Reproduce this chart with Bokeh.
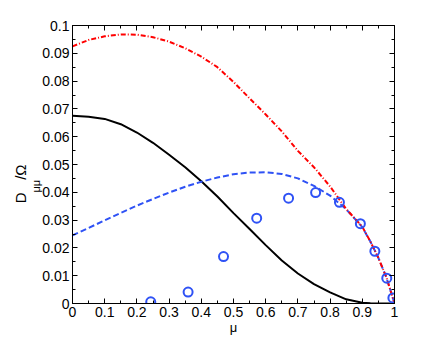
from math import pi
from bokeh.plotting import figure
from bokeh.models import LinearAxis, FixedTicker
from bokeh.embed import file_html
from bokeh.resources import INLINE

# ---- data ----
mu = [0.0, 0.05, 0.1, 0.15, 0.2, 0.25, 0.3, 0.35, 0.4, 0.45, 0.5, 0.55, 0.6,
      0.65, 0.7, 0.75, 0.8, 0.85, 0.9, 0.925, 0.95, 0.975, 0.99, 1.0]
d_black = [0.0675, 0.0672, 0.0664, 0.0645, 0.0615, 0.0578, 0.0535, 0.0490,
           0.0440, 0.0385, 0.0325, 0.0268, 0.0210, 0.0155, 0.0108, 0.0070,
           0.0040, 0.0015, 0.0003, 0.0001, 0.0, 0.0, 0.0, 0.0]
d_blue = [0.0245, 0.0272, 0.0299, 0.0326, 0.0352, 0.0376, 0.0399, 0.0420,
          0.0438, 0.0453, 0.0465, 0.0471, 0.0472, 0.0466, 0.0450, 0.0423,
          0.0388, 0.0339, 0.0275, 0.0223, 0.0164, 0.0093, 0.0038, 0.0]
d_red = [0.0925, 0.0948, 0.0961, 0.0968, 0.0967, 0.0958, 0.0942, 0.0918,
         0.0888, 0.0850, 0.0797, 0.0738, 0.0680, 0.0619, 0.0549, 0.0490,
         0.0421, 0.0340, 0.0276, 0.0223, 0.0164, 0.0093, 0.0038, 0.0]
mu_pts = [0.243, 0.359, 0.469, 0.572, 0.671, 0.755, 0.829, 0.894, 0.939, 0.976, 0.995]
d_pts = [0.0006, 0.0041, 0.0169, 0.0307, 0.0379, 0.0399, 0.0364, 0.0287, 0.0188, 0.0091, 0.0020]

x_ticks = [0.0, 0.1, 0.2, 0.3, 0.4, 0.5, 0.6, 0.7, 0.8, 0.9, 1.0]
x_minor = [0.05, 0.15, 0.25, 0.35, 0.45, 0.55, 0.65, 0.75, 0.85, 0.95]
y_ticks = [0.0, 0.01, 0.02, 0.03, 0.04, 0.05, 0.06, 0.07, 0.08, 0.09, 0.1]
y_minor = [0.005, 0.015, 0.025, 0.035, 0.045, 0.055, 0.065, 0.075, 0.085, 0.095]
x_tick_labels = {0.0: "0", 0.1: "0.1", 0.2: "0.2", 0.3: "0.3", 0.4: "0.4", 0.5: "0.5",
                 0.6: "0.6", 0.7: "0.7", 0.8: "0.8", 0.9: "0.9", 1.0: "1"}
y_tick_labels = {0.0: "0", 0.01: "0.01", 0.02: "0.02", 0.03: "0.03", 0.04: "0.04",
                 0.05: "0.05", 0.06: "0.06", 0.07: "0.07", 0.08: "0.08", 0.09: "0.09",
                 0.1: "0.1"}
x_label = "μ"
NB = "\u00a0"
y_label_main = "D" + NB * 3 + "/Ω"
y_label_sub = "μμ" + NB * 5

FONT = "Liberation Sans"

p = figure(width=436, height=337, x_range=(0, 1), y_range=(0, 0.1),
           output_backend="svg", toolbar_location=None,
           min_border_left=65, min_border_right=42, min_border_top=25,
           min_border_bottom=34, x_axis_location=None, y_axis_location=None)
p.grid.visible = False
p.outline_line_color = "black"
p.background_fill_color = "white"
p.border_fill_color = "white"


def style_axis(ax, ticks, minor, labels, show_labels):
    ax.ticker = FixedTicker(ticks=ticks, minor_ticks=minor)
    ax.major_tick_in = 5
    ax.major_tick_out = 0
    ax.minor_tick_in = 3
    ax.minor_tick_out = 0
    ax.axis_line_color = "black"
    ax.major_tick_line_color = "black"
    ax.minor_tick_line_color = "black"
    ax.major_label_text_font = FONT
    ax.major_label_text_font_size = "14px"
    ax.major_label_text_color = "black"
    if show_labels:
        ax.major_label_overrides = labels
    else:
        ax.major_label_text_font_size = "0px"
        ax.major_label_text_color = None
        ax.major_label_standoff = 0


def label_axis(text, size, standoff):
    ax = LinearAxis(ticker=FixedTicker(ticks=[], minor_ticks=[]))
    ax.axis_line_color = None
    ax.major_tick_in = 0
    ax.major_tick_out = 0
    ax.minor_tick_in = 0
    ax.minor_tick_out = 0
    ax.major_label_standoff = 0
    ax.axis_label = text
    ax.axis_label_orientation = pi / 2
    ax.axis_label_standoff = standoff
    ax.axis_label_text_font = FONT
    ax.axis_label_text_font_size = size
    ax.axis_label_text_font_style = "normal"
    ax.axis_label_text_color = "black"
    return ax


xb = LinearAxis()
style_axis(xb, x_ticks, x_minor, x_tick_labels, True)
xb.major_label_standoff = 3
xb.axis_label = x_label
xb.axis_label_standoff = 0
xb.axis_label_text_font = FONT
xb.axis_label_text_font_size = "13px"
xb.axis_label_text_font_style = "normal"
xb.axis_label_text_color = "black"
p.add_layout(xb, "below")
xt = LinearAxis()
style_axis(xt, x_ticks, x_minor, x_tick_labels, False)
p.add_layout(xt, "above")
yl = LinearAxis()
style_axis(yl, y_ticks, y_minor, y_tick_labels, True)
yl.major_label_standoff = 3
p.add_layout(yl, "left")
p.add_layout(label_axis(y_label_sub, "11px", 4), "left")
p.add_layout(label_axis(y_label_main, "15px", 0), "left")
yr = LinearAxis()
style_axis(yr, y_ticks, y_minor, y_tick_labels, False)
p.add_layout(yr, "right")

p.line(mu, d_black, line_color="black", line_width=2)
p.line(mu, d_blue, line_color="#2f52f5", line_width=2, line_dash="6 3")
p.line(mu, d_red, line_color="#ff0000", line_width=2, line_dash="5 2 1 2")
p.scatter(mu_pts, d_pts, marker="circle", size=9, fill_color=None,
          line_color="#2f52f5", line_width=2)

open("out.html", "w").write(file_html(p, INLINE))
